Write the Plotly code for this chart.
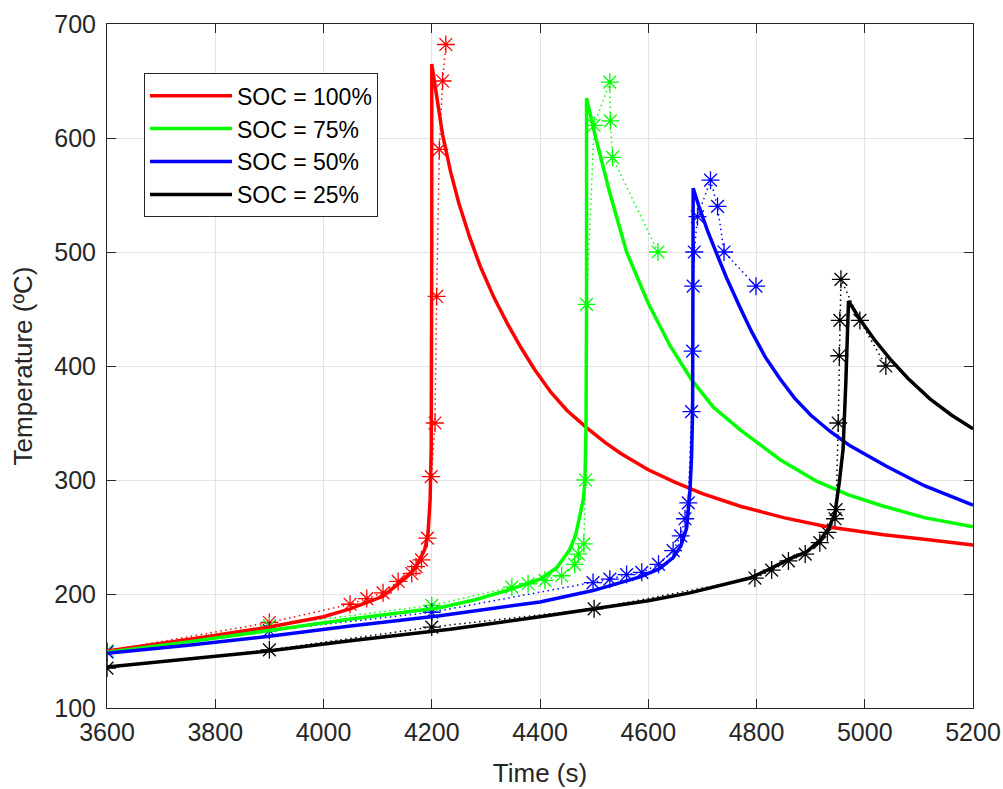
import plotly.graph_objects as go

# ---- Simulation (solid lines) ----
red_x = [3600, 3750, 3900, 4000, 4049, 4110, 4141, 4160, 4172, 4187, 4193, 4197, 4199, 4200, 4200, 4200,
         4210, 4220, 4235, 4250, 4270, 4290, 4315, 4340, 4365, 4390, 4420, 4450, 4486, 4520, 4550, 4600,
         4650, 4700, 4770, 4850, 4930, 5035, 5110, 5200]
red_y = [150, 160, 171, 180, 187, 198, 210, 218, 225, 239, 252, 283, 327, 400, 500, 665,
         632, 603, 570, 543, 513, 487, 460, 437, 416, 397, 377, 361, 346, 333, 323, 309,
         298, 288, 277, 267, 259, 252, 248, 243]

green_x = [3600, 3750, 3900, 4050, 4215, 4280, 4338, 4400, 4431, 4455, 4466, 4474, 4480, 4483, 4485, 4486, 4486,
           4503, 4530, 4560, 4600, 4640, 4680, 4720, 4770, 4843, 4911, 4970, 5035, 5110, 5200]
green_y = [149, 158, 168, 178, 188, 195, 203, 213, 223, 239, 252, 268, 283, 298, 347, 450, 635,
           600, 550, 500, 455, 418, 388, 364, 344, 318, 299, 287, 277, 267, 259]

blue_x = [3600, 3750, 3900, 4050, 4215, 4400, 4498, 4585, 4620, 4646, 4660, 4671, 4677, 4680, 4682, 4683, 4683,
          4695, 4710, 4726, 4745, 4769, 4790, 4816, 4843, 4870, 4900, 4935, 4973, 5040, 5110, 5200]
blue_y = [148, 155, 163, 172, 181, 193, 203, 215, 222, 232, 242, 258, 290, 320, 360, 450, 556,
          538, 518, 499, 477, 452, 431, 408, 389, 372, 357, 343, 330, 312, 295, 278]

black_x = [3600, 3750, 3898, 4050, 4234, 4400, 4498, 4600, 4677, 4788, 4825, 4862, 4893, 4917, 4933, 4945,
           4953, 4960, 4965, 4968, 4970, 4991, 5018, 5047, 5080, 5121, 5160, 5200]
black_y = [136, 143, 150, 159, 169, 180, 187, 194, 201, 214, 222, 231, 237, 247, 257, 271,
           298, 327, 385, 429, 457, 441, 423, 406, 389, 371, 357, 345]

# ---- Experiment (dotted lines with * markers) ----
red_exp_x = [3600, 3900, 4049, 4080, 4110, 4138, 4163, 4171, 4181, 4192, 4199, 4206, 4209, 4214, 4220, 4226]
red_exp_y = [150, 175, 191, 196, 201, 211, 218, 224, 230, 249, 303, 350, 461, 590, 650, 682]

green_exp_x = [3600, 3900, 4200, 4348, 4378, 4409, 4440, 4464, 4471, 4481, 4484, 4486, 4500, 4529, 4530, 4534, 4618]
green_exp_y = [150, 172, 190, 206, 209, 212, 216, 226, 235, 244, 300, 454, 611, 649, 615, 583, 500]

blue_exp_x = [3600, 3900, 4200, 4498, 4529, 4560, 4588, 4619, 4646, 4660, 4668, 4674, 4680, 4682, 4683, 4685,
              4691, 4715, 4728, 4740, 4799]
blue_exp_y = [149, 168, 184, 210, 213, 217, 219, 226, 238, 251, 266, 280, 360, 413, 470, 500,
              531, 563, 540, 500, 470]

black_exp_x = [3600, 3900, 4200, 4500, 4797, 4828, 4859, 4890, 4917, 4931, 4945, 4947, 4951, 4953, 4954, 4956,
               4991, 5039]
black_exp_y = [135, 151, 171, 187, 214, 221, 229, 235, 245, 254, 266, 274, 350, 409, 440, 476,
               440, 400]

labels = ["SOC = 100%", "SOC = 75%", "SOC = 50%", "SOC = 25%"]
colors = ["#FF0000", "#00FF00", "#0000FF", "#000000"]

sim = [(red_x, red_y), (green_x, green_y), (blue_x, blue_y), (black_x, black_y)]
exp = [(red_exp_x, red_exp_y), (green_exp_x, green_exp_y), (blue_exp_x, blue_exp_y), (black_exp_x, black_exp_y)]

FONT = "Arial, Liberation Sans, sans-serif"

fig = go.Figure()

for (ex, ey), c in zip(exp, colors):
    fig.add_trace(go.Scatter(
        x=ex, y=ey, mode="lines+markers", showlegend=False,
        line=dict(color=c, width=1.5, dash="1.5px,3.5px"),
        marker=dict(symbol="asterisk-open", size=15, color=c, line=dict(width=1.3, color=c)),
        hoverinfo="skip"))

for (sx, sy), c, lab in zip(sim, colors, labels):
    fig.add_trace(go.Scatter(
        x=sx, y=sy, mode="lines", name=lab,
        line=dict(color=c, width=3.5)))

axis_common = dict(
    showline=True, linecolor="#262626", linewidth=1, mirror="ticks",
    ticks="inside", ticklen=9, tickcolor="#262626", tickwidth=1,
    showgrid=True, gridcolor="#e3e3e3", gridwidth=1, zeroline=False,
    automargin=False,
    tickfont=dict(family=FONT, size=25, color="#262626"),
)

fig.update_xaxes(range=[3600, 5200], dtick=200, tick0=3600, ticklabelstandoff=2,
                 title=dict(text="Time (s)", font=dict(family=FONT, size=26, color="#262626"), standoff=18),
                 **axis_common)
fig.update_yaxes(range=[100, 700], dtick=100, tick0=100, ticklabelstandoff=5,
                 title=dict(text="Temperature (ºC)", font=dict(family=FONT, size=26, color="#262626"), standoff=14),
                 **axis_common)

fig.update_layout(
    width=1003, height=789,
    margin=dict(l=107, r=30, t=24, b=81),
    plot_bgcolor="white", paper_bgcolor="white",
    legend=dict(x=0.0427, y=0.928, xanchor="left", yanchor="top",
                bgcolor="white", bordercolor="#262626", borderwidth=1,
                font=dict(family=FONT, size=23, color="#000000"),
                itemwidth=82, tracegroupgap=0),
)

fig.write_html("out.html",
               config={"displayModeBar": False},
               post_script="document.body.style.margin='0';document.body.style.overflow='hidden';")
